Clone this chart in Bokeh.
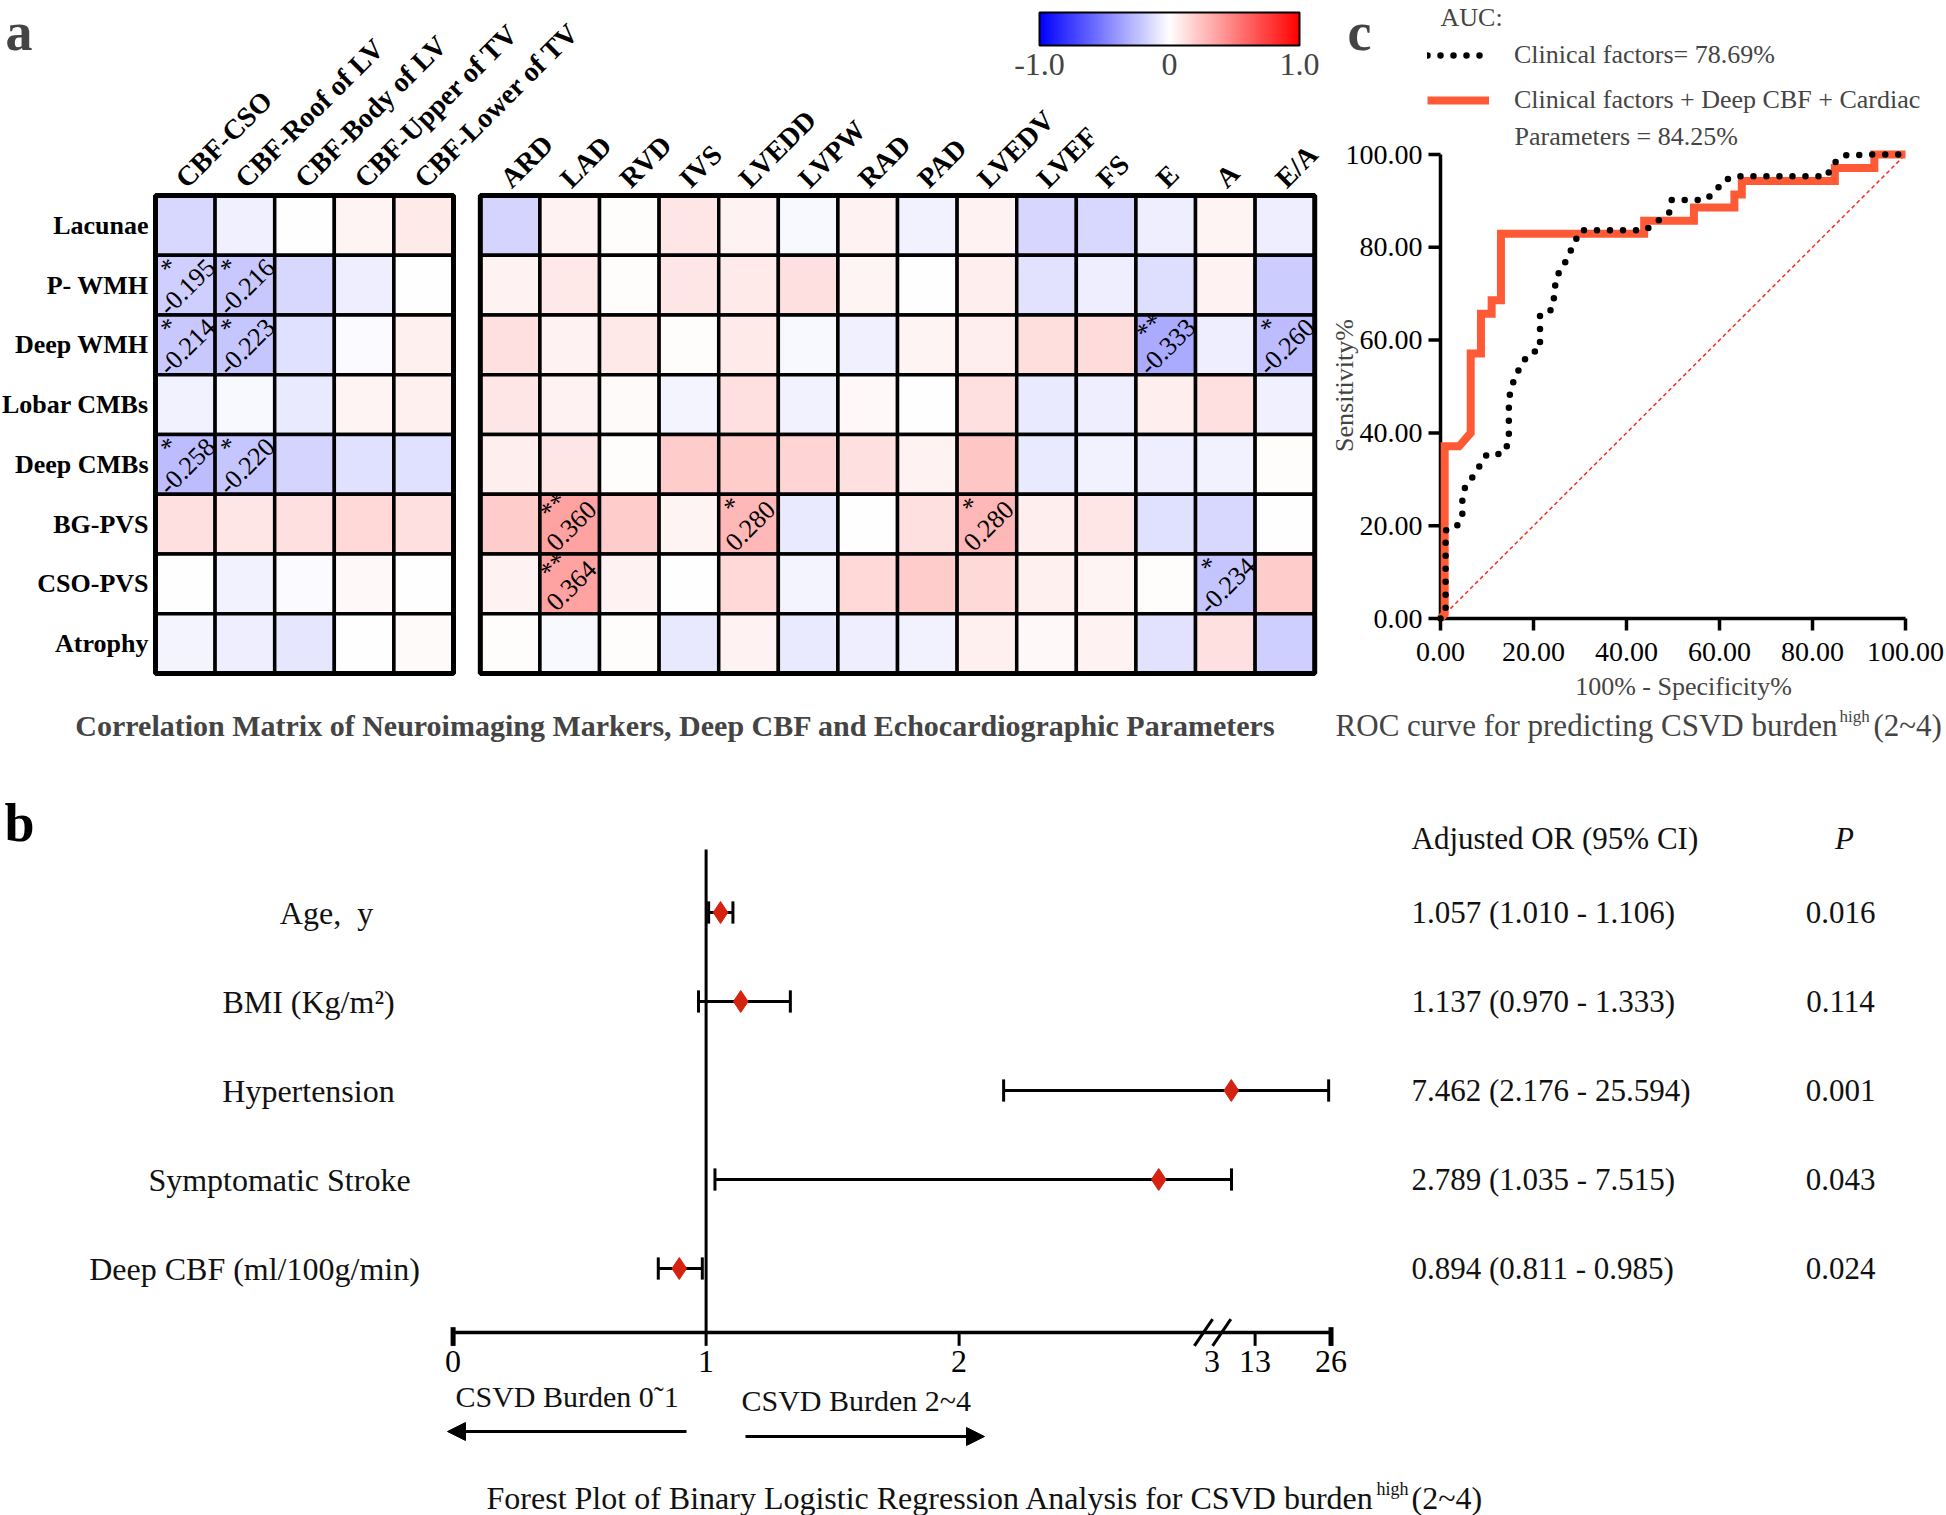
import numpy as np
from math import pi
from bokeh.plotting import figure
from bokeh.layouts import column, row
from bokeh.models import (Range1d, ColumnDataSource, LinearColorMapper, ColorBar,
                          FixedTicker, Label, Legend, LegendItem, Arrow, NormalHead)
from bokeh.core.properties import value
from bokeh.embed import file_html
from bokeh.resources import INLINE

SERIF = "Liberation Serif"

# ------------------------------------------------------------------ data: panel a
rows_a = ["Lacunae", "P- WMH", "Deep WMH", "Lobar CMBs", "Deep CMBs", "BG-PVS", "CSO-PVS", "Atrophy"]
cols_cbf = ["CBF-CSO", "CBF-Roof of LV", "CBF-Body of LV", "CBF-Upper of TV", "CBF-Lower of TV"]
cols_echo = ["ARD", "LAD", "RVD", "IVS", "LVEDD", "LVPW", "RAD", "PAD", "LVEDV", "LVEF", "FS", "E", "A", "E/A"]

r_cbf = [
    [-0.15, -0.06, 0.00, 0.04, 0.08],
    [-0.195, -0.216, -0.15, -0.07, 0.00],
    [-0.214, -0.223, -0.12, -0.02, 0.06],
    [-0.05, -0.03, -0.08, 0.04, 0.06],
    [-0.258, -0.220, -0.17, -0.12, -0.12],
    [0.12, 0.10, 0.12, 0.15, 0.12],
    [0.00, -0.05, -0.02, 0.03, 0.00],
    [-0.04, -0.07, -0.10, 0.00, 0.02],
]
sig_cbf = [
    ["", "", "", "", ""],
    ["*", "*", "", "", ""],
    ["*", "*", "", "", ""],
    ["", "", "", "", ""],
    ["*", "*", "", "", ""],
    ["", "", "", "", ""],
    ["", "", "", "", ""],
    ["", "", "", "", ""],
]
r_echo = [
    [-0.17, 0.05, 0.01, 0.10, 0.05, -0.03, 0.05, -0.05, 0.05, -0.16, -0.15, -0.07, 0.04, -0.07],
    [0.05, 0.09, 0.01, 0.10, 0.08, 0.12, 0.04, 0.00, 0.07, -0.11, -0.07, -0.13, 0.05, -0.20],
    [0.12, 0.05, 0.09, 0.01, 0.08, -0.03, -0.06, 0.04, 0.07, 0.13, 0.14, -0.333, -0.07, -0.260],
    [0.10, 0.05, 0.02, -0.04, 0.12, -0.05, 0.03, 0.00, 0.12, -0.08, -0.07, 0.07, 0.12, -0.06],
    [0.07, 0.10, 0.01, 0.20, 0.20, 0.17, 0.12, 0.05, 0.22, -0.08, -0.05, -0.07, -0.05, 0.01],
    [0.20, 0.360, 0.20, 0.04, 0.280, -0.08, 0.00, 0.12, 0.280, 0.07, 0.10, -0.12, -0.15, 0.00],
    [0.05, 0.364, 0.05, 0.00, 0.15, -0.04, 0.15, 0.20, 0.15, 0.06, 0.04, 0.01, -0.234, 0.20],
    [0.01, -0.03, 0.01, -0.09, 0.05, -0.08, -0.07, -0.05, 0.06, 0.03, 0.05, -0.11, 0.12, -0.19],
]
sig_echo = [
    [""] * 14,
    [""] * 14,
    ["", "", "", "", "", "", "", "", "", "", "", "**", "", "*"],
    [""] * 14,
    [""] * 14,
    ["", "**", "", "", "*", "", "", "", "*", "", "", "", "", ""],
    ["", "**", "", "", "", "", "", "", "", "", "", "", "*", ""],
    [""] * 14,
]
cbar_ticks = [-1, 0, 1]
cbar_labels = ["-1.0", "0", "1.0"]

# ------------------------------------------------------------------ data: panel c (ROC)
roc_clin_fpr = [0, 1.1, 1.1, 3.1, 4.7, 4.7, 5.3, 7.0, 8.5, 10.0, 13.4, 14.7, 14.7, 14.7, 15.0, 17.2,
                19.0, 21.4, 21.4, 21.4, 23.9, 24.5, 24.8, 26.3, 27.5, 28.8, 30.1, 44.0, 44.9, 49.3,
                49.7, 56.9, 59.0, 60.9, 63.5, 83.2, 84.0, 86.7, 93.0, 100]
roc_clin_tpr = [0, 1.0, 19.0, 19.4, 21.6, 25.5, 28.4, 30.6, 33.0, 35.4, 35.5, 38.0, 42.0, 45.5, 49.4, 54.5,
                57.0, 58.0, 61.7, 65.6, 66.5, 69.6, 73.5, 75.7, 78.2, 81.0, 83.7, 83.7, 84.3, 87.6,
                90.2, 90.2, 91.9, 94.4, 95.3, 95.3, 97.6, 99.8, 100, 100]
roc_comb_fpr = [0, 0.9, 0.9, 4.0, 6.5, 6.5, 8.7, 8.7, 11.0, 11.0, 13.0, 13.0, 43.8, 43.8, 54.5, 54.5,
                63.2, 63.2, 64.8, 64.8, 84.8, 84.8, 93.3, 93.3, 100]
roc_comb_tpr = [0, 1.0, 37.1, 37.1, 40.0, 57.1, 57.1, 65.7, 65.7, 68.6, 68.6, 82.9, 82.9, 85.7, 85.7, 88.6,
                88.6, 91.4, 91.4, 94.3, 94.3, 97.1, 97.1, 100, 100]
roc_ref = [0, 100]
roc_ticks = [0, 20, 40, 60, 80, 100]
auc_clin = "78.69%"
auc_comb = "84.25%"

# ------------------------------------------------------------------ data: panel b (forest)
forest_vars = ["Age, \u00a0y", "BMI (Kg/m\u00b2)", "Hypertension", "Symptomatic Stroke", "Deep CBF (ml/100g/min)"]
or_est = [1.057, 1.137, 7.462, 2.789, 0.894]
ci_low = [1.010, 0.970, 2.176, 1.035, 0.811]
ci_high = [1.106, 1.333, 25.594, 7.515, 0.985]
p_vals = ["0.016", "0.114", "0.001", "0.043", "0.024"]
forest_ticks = [0, 1, 2, 3, 13, 26]
axis_break = 3
null_or = 1
# broken axis: value -> position knots
brk_vals = [0, 3, 13, 26]
brk_pos = [0, 3.0, 3.17, 3.47]


def fx(v):
    return np.interp(np.asarray(v, dtype=float), brk_vals, brk_pos)


def bwr(n=256):
    pal = []
    for k in range(n):
        t = -1 + 2 * k / (n - 1)
        if t < 0:
            c = int(round(255 * (1 + t)))
            pal.append("#%02x%02xff" % (c, c))
        else:
            c = int(round(255 * (1 - t)))
            pal.append("#ff%02x%02x" % (c, c))
    return pal


mapper = LinearColorMapper(palette=bwr(), low=-1, high=1)
BASE_SHIFT = 18   # alphabetic baseline correction for big panel letters

# ================================================================== panel a
HW, HH = 1326, 760
CW, CH = 59.6, 59.75
GAP = 0.45
hx0 = -0.5 - 155 / CW
hyt = -0.5 - 195 / CH
heat = figure(width=HW, height=HH, x_range=Range1d(hx0, hx0 + HW / CW),
              y_range=Range1d(hyt + HH / CH, hyt), x_axis_type=None, y_axis_type=None,
              toolbar_location=None, output_backend="svg", min_border=0,
              outline_line_color=None, title=None)

ncb, nec, nr = len(cols_cbf), len(cols_echo), len(rows_a)
col_x = list(range(ncb)) + [ncb + GAP + j for j in range(nec)]
col_names = cols_cbf + cols_echo

cx, cy, cv = [], [], []
ax_, ay_, at_, sx_, sy_, st_ = [], [], [], [], [], []
for i in range(nr):
    vals = r_cbf[i] + r_echo[i]
    sigs = sig_cbf[i] + sig_echo[i]
    for j, (v, s) in enumerate(zip(vals, sigs)):
        cx.append(col_x[j]); cy.append(i); cv.append(v)
        if s:
            ax_.append(col_x[j] + 0.03); ay_.append(i + 0.03); at_.append("%.3f" % v)
            sx_.append(col_x[j] - 0.27); sy_.append(i - 0.3); st_.append(s)

heat.rect(x="x", y="y", width=1, height=1,
          source=ColumnDataSource(dict(x=cx, y=cy, v=cv)),
          fill_color={"field": "v", "transform": mapper}, line_color="black", line_width=3.5)
heat.rect(x=[(ncb - 1) / 2, ncb + GAP + (nec - 1) / 2], y=[(nr - 1) / 2] * 2,
          width=[ncb, nec], height=[nr, nr], fill_color=None, line_color="black", line_width=5)

heat.text(x=ax_, y=ay_, text=at_, angle=pi / 4, text_font=value(SERIF),
          text_font_size=value("26px"), text_align="center", text_baseline="middle",
          text_color="black")
heat.text(x=sx_, y=sy_, text=st_, angle=pi / 4, text_font=value(SERIF),
          text_font_size=value("26px"), text_align="center", text_baseline="middle",
          text_color="black")

heat.text(x=[c + 0.1 for c in col_x], y=[-0.53] * len(col_x), text=col_names, angle=pi / 4,
          text_font=value(SERIF), text_font_style="bold", text_font_size=value("28px"),
          text_align="left", text_baseline="bottom", text_color="black")
heat.text(x=[hx0 + 148 / CW] * nr, y=list(range(nr)), text=rows_a, text_font=value(SERIF),
          text_font_style="bold", text_font_size=value("26px"), text_align="right",
          text_baseline="middle", text_color="black")

cb = ColorBar(color_mapper=mapper, orientation="horizontal", location=(1039, 683),
              width=260, height=33, padding=0, margin=0,
              ticker=FixedTicker(ticks=cbar_ticks),
              major_label_overrides={t: l for t, l in zip(cbar_ticks, cbar_labels)},
              major_label_text_font=SERIF, major_label_text_font_size="32px",
              major_tick_line_color=None, minor_tick_line_color=None,
              bar_line_color="black", bar_line_width=2, label_standoff=8,
              background_fill_alpha=0, border_line_color=None)
heat.add_layout(cb)

heat.add_layout(Label(x=5, y=HH - 1, x_units="screen", y_units="screen", text="a",
                      text_font=SERIF, text_font_style="bold", text_font_size="54px",
                      text_baseline="top", text_align="left"))
heat.add_layout(Label(x=675, y=HH - 725, x_units="screen", y_units="screen",
                      text="Correlation Matrix of Neuroimaging Markers, Deep CBF and Echocardiographic Parameters",
                      text_font=SERIF, text_font_style="bold", text_font_size="30px",
                      text_baseline="middle", text_align="center"))

# ================================================================== panel c
RX0 = HW                      # screenshot x of this canvas
RW, RH = 1946 - HW, 760
PX, PY = 4.65, 4.64           # px per % on x / y
OX, OY = 1440 - RX0, 618      # canvas px of the (0, 0) corner
roc = figure(width=RW, height=RH, x_range=Range1d(-OX / PX, (RW - OX) / PX),
             y_range=Range1d(-(RH - OY) / PY, OY / PY), x_axis_type=None, y_axis_type=None,
             toolbar_location=None, output_backend="svg", min_border=0,
             outline_line_color=None, title=None)

t0, t1 = min(roc_ticks), max(roc_ticks)
nt = len(roc_ticks)
roc.segment(x0=[t0, t0], y0=[t0, t0], x1=[t1, t0], y1=[t0, t1], line_color="black", line_width=3.5)
roc.segment(x0=roc_ticks, y0=[t0] * nt, x1=roc_ticks, y1=[t0 - 12 / PY] * nt, line_color="black", line_width=3.5)
roc.segment(x0=[t0] * nt, y0=roc_ticks, x1=[t0 - 12 / PX] * nt, y1=roc_ticks, line_color="black", line_width=3.5)
tick_txt = ["%.2f" % t for t in roc_ticks]
roc.text(x=roc_ticks, y=[t0 - 33 / PY] * nt, text=tick_txt, text_font=value(SERIF),
         text_font_size=value("28px"), text_align="center", text_baseline="middle")
roc.text(x=[t0 - 18 / PX] * nt, y=roc_ticks, text=tick_txt, text_font=value(SERIF),
         text_font_size=value("28px"), text_align="right", text_baseline="middle")

roc.line(roc_ref, roc_ref, line_color="#ff2a1a", line_width=1.5, line_dash="4 3")
r_comb = roc.line(roc_comb_fpr, roc_comb_tpr, line_color="#ff5a36", line_width=8,
                  line_join="miter")
r_clin = roc.line(roc_clin_fpr, roc_clin_tpr, line_color="black", line_width=6.5,
                  line_dash="0 13", line_cap="round")

leg = Legend(items=[LegendItem(label="Clinical factors= " + auc_clin, renderers=[r_clin]),
                    LegendItem(label="Clinical factors + Deep CBF + Cardiac", renderers=[r_comb])],
             location=(1427 - RX0, RH - 115), glyph_width=62, glyph_height=30,
             label_height=30, spacing=15, padding=0, margin=0, label_standoff=25,
             border_line_color=None, background_fill_alpha=0, label_text_font=SERIF,
             label_text_font_size="26px")
roc.add_layout(leg)


def rl(sx, sy, text, **kw):
    opts = dict(text_font=SERIF, text_font_size="26px", text_align="left", text_baseline="middle")
    opts.update(kw)
    roc.add_layout(Label(x=sx - RX0, y=RH - sy, x_units="screen", y_units="screen",
                         text=text, **opts))


rl(1440, 17, "AUC:")
rl(1347, 1, "c", text_font_style="bold", text_font_size="54px", text_baseline="top")
rl(1514, 136, "Parameters = " + auc_comb)
rl(1344, 385, "Sensitivity%", angle=pi / 2, text_align="center")
rl(1683, 686, "100% - Specificity%", text_align="center")
rl(1837, 725, "ROC curve for predicting CSVD burden", text_font_size="31px", text_align="right")
rl(1839, 716, "high", text_font_size="17px")
rl(1873, 725, "(2~4)", text_font_size="31px")

# ================================================================== panel b
FY0 = 760                     # screenshot y of this canvas
FW, FH = 1946, 1515 - FY0
PPU, XO = 253.0, 452.6
RPX, R0 = 89.0, 152.0
fyt = -R0 / RPX
forest = figure(width=FW, height=FH, x_range=Range1d(-XO / PPU, (FW - XO) / PPU),
                y_range=Range1d(fyt + FH / RPX, fyt), x_axis_type=None, y_axis_type=None,
                toolbar_location=None, output_backend="svg", min_border=0,
                outline_line_color=None, title=None)


def ux(sx):
    return (sx - XO) / PPU


def ry(sy):
    return (sy - FY0 - R0) / RPX


AXY = ry(1332)
nv = len(forest_vars)
rows_f = list(range(nv))

forest.segment(x0=[float(fx(null_or))], y0=[ry(849)], x1=[float(fx(null_or))], y1=[AXY],
               line_color="black", line_width=3)
forest.segment(x0=[float(fx(min(forest_ticks)))], y0=[AXY], x1=[float(fx(max(forest_ticks)))], y1=[AXY],
               line_color="black", line_width=3.5)
tk = [t for t in forest_ticks if t != axis_break]
forest.segment(x0=list(fx(tk)), y0=[AXY] * len(tk), x1=list(fx(tk)), y1=[AXY + 0.15] * len(tk),
               line_color="black", line_width=3)
ends = [min(forest_ticks), max(forest_ticks)]
forest.segment(x0=list(fx(ends)), y0=[AXY - 0.06] * 2, x1=list(fx(ends)), y1=[AXY + 0.15] * 2,
               line_color="black", line_width=5)
bx = float(fx(axis_break))
forest.segment(x0=[bx - 0.07, bx + 0.002], y0=[AXY + 0.15] * 2, x1=[bx + 0.002, bx + 0.074],
               y1=[AXY - 0.15] * 2, line_color="black", line_width=3)
forest.text(x=list(fx(forest_ticks)), y=[ry(1361)] * len(forest_ticks),
            text=[str(t) for t in forest_ticks], text_font=value(SERIF),
            text_font_size=value("32px"), text_align="center", text_baseline="middle")

lo, hi = list(fx(ci_low)), list(fx(ci_high))
forest.segment(x0=lo, y0=rows_f, x1=hi, y1=rows_f, line_color="black", line_width=3)
forest.segment(x0=lo + hi, y0=[r - 0.125 for r in rows_f] * 2, x1=lo + hi,
               y1=[r + 0.125 for r in rows_f] * 2, line_color="black", line_width=3)
forest.scatter(x=list(fx(or_est)), y=rows_f, marker="diamond", size=22,
               fill_color="#d42310", line_color="#d42310")

label_cx = [326, 308, 308, 279, 254]
forest.text(x=[ux(c) for c in label_cx], y=rows_f, text=forest_vars, text_font=value(SERIF),
            text_font_size=value("32px"), text_align="center", text_baseline="middle",
            text_color="#111111")
forest.text(x=[ux(1411)], y=[ry(838)], text=["Adjusted OR (95% CI)"], text_font=value(SERIF),
            text_font_size=value("31px"), text_align="left", text_baseline="middle", text_color="#111111")
forest.text(x=[ux(1844)], y=[ry(838)], text=["P"], text_font=value(SERIF), text_font_style="italic",
            text_font_size=value("31px"), text_align="center", text_baseline="middle", text_color="#111111")
forest.text(x=[ux(1411)] * nv, y=rows_f,
            text=["%.3f (%.3f - %.3f)" % (e, l, h) for e, l, h in zip(or_est, ci_low, ci_high)],
            text_font=value(SERIF), text_font_size=value("31px"), text_align="left",
            text_baseline="middle", text_color="#111111")
forest.text(x=[ux(1840)] * nv, y=rows_f, text=p_vals, text_font=value(SERIF),
            text_font_size=value("31px"), text_align="center", text_baseline="middle",
            text_color="#111111")


def fl(x, y, text, **kw):
    opts = dict(text_font=SERIF, text_font_size="32px", text_align="left", text_baseline="middle",
                text_color="#111111")
    opts.update(kw)
    forest.add_layout(Label(x=x, y=y, text=text, **opts))


fl(ux(4), ry(840 - BASE_SHIFT), "b", text_font_style="bold", text_font_size="54px",
   text_baseline="alphabetic", text_color="black")
fl(ux(455), ry(1396), "CSVD Burden 0\u02dc1", text_font_size="30px")
fl(ux(741), ry(1400), "CSVD Burden 2~4", text_font_size="30px")
fl(ux(1374), ry(1497), "Forest Plot of Binary Logistic Regression Analysis for CSVD burden", text_align="right")
fl(ux(1376), ry(1488), "high", text_font_size="18px")
fl(ux(1411), ry(1497), "(2~4)")

forest.add_layout(Arrow(end=NormalHead(size=18, fill_color="black", line_color="black"),
                        x_start=ux(686), y_start=ry(1431), x_end=ux(447), y_end=ry(1431),
                        line_width=3, line_color="black"))
forest.add_layout(Arrow(end=NormalHead(size=18, fill_color="black", line_color="black"),
                        x_start=ux(745), y_start=ry(1436), x_end=ux(984), y_end=ry(1436),
                        line_width=3, line_color="black"))

layout = column(row(heat, roc), forest)
open("out.html", "w").write(file_html(layout, INLINE))
